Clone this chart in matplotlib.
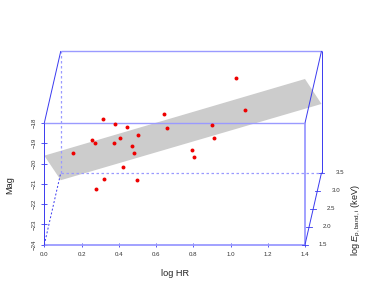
import numpy as np
import matplotlib
matplotlib.use('Agg')
import matplotlib.pyplot as plt

plt.rcParams['font.family'] = ['Liberation Sans', 'DejaVu Sans']
plt.rcParams['mathtext.fontset'] = 'custom'
plt.rcParams['mathtext.rm'] = 'Liberation Sans'
plt.rcParams['mathtext.it'] = 'Liberation Sans:italic'

# points
log_hr = [0.316, 0.380, 0.445, 0.643, 0.661, 0.505, 0.407, 0.258, 0.272, 0.374, 0.469, 0.480,
          0.152, 0.421, 1.031, 1.076, 0.899, 0.910, 0.795, 0.806, 0.319, 0.496, 0.280]
mag = [-17.80, -18.05, -18.18, -17.56, -18.23, -18.61, -18.75, -18.82, -19.00, -19.00, -19.13, -19.46,
       -19.46, -20.18, -15.80, -17.37, -18.08, -18.72, -19.35, -19.66, -20.75, -20.81, -21.27]

# fitted plane corners (log HR, log Ep, Mag)
plane_hr = [0.0, 1.4, 1.4, 0.0]
plane_ep = [1.5, 1.5, 3.5, 3.5]
plane_mag = [-19.61, -15.83, -20.61, -24.37]

hr_ticks = [0.0, 0.2, 0.4, 0.6, 0.8, 1.0, 1.2, 1.4]
mag_ticks = [-24, -23, -22, -21, -20, -19, -18]
ep_ticks = [1.5, 2.0, 2.5, 3.0, 3.5]

blue = '#3a3af0'
light = '#9a9aff'
grey = '#333333'

W, H = 374, 307
left, right, bottom, top = 44.3, 305.0, 244.7, 123.0
dx_px, dy_px = 16.5, 72.0  # oblique depth of the box

fig = plt.figure(figsize=(W / 100, H / 100), dpi=100)
ax = fig.add_axes([left / W, 1 - bottom / H, (right - left) / W, (bottom - top) / H])
ax.set_xlim(0, 1.4)
ax.set_ylim(-24, -18)
for spine in ax.spines.values():
    spine.set_visible(False)


def shear(hr, ep, m):
    # scatterplot3d style projection onto the front panel
    d = (np.asarray(ep, dtype=float) - 1.5) / 2.0
    sx = (right - left) / 1.4
    sy = (bottom - top) / 6.0
    return np.asarray(hr) + d * dx_px / sx, np.asarray(m) + d * dy_px / sy


def box_line(hr, ep, m, **kw):
    x, y = shear(hr, ep, m)
    ax.plot(x, y, clip_on=False, solid_capstyle='butt', **kw)


# grey plane
px, py = shear(plane_hr, plane_ep, plane_mag)
ax.fill(px, py, color='#cccccc', lw=0, zorder=1, clip_on=False)

# front panel
box_line([0, 1.4], [1.5, 1.5], [-18, -18], color=light, lw=1.0, zorder=2)
box_line([0, 1.4], [1.5, 1.5], [-24, -24], color=light, lw=1.3, zorder=2)
box_line([0, 0], [1.5, 1.5], [-24, -18], color=blue, lw=0.7, zorder=2)
box_line([1.4, 1.4], [1.5, 1.5], [-24, -18], color=light, lw=1.3, zorder=2)
# back panel
box_line([0, 1.4], [3.5, 3.5], [-18, -18], color=light, lw=1.0, zorder=2)
box_line([1.4, 1.4], [3.5, 3.5], [-24, -18], color=blue, lw=0.7, zorder=2)
box_line([0, 0], [3.5, 3.5], [-24, -18], color=light, lw=0.9, ls=(0, (2, 2)), zorder=2)
box_line([0, 1.4], [3.5, 3.5], [-24, -24], color=light, lw=0.9, ls=(0, (2, 2)), zorder=2)
# depth edges
box_line([0, 0], [1.5, 3.5], [-18, -18], color=blue, lw=0.7, zorder=2)
box_line([1.4, 1.4], [1.5, 3.5], [-18, -18], color=blue, lw=0.7, zorder=2)
box_line([1.4, 1.4], [1.5, 3.5], [-24, -24], color=blue, lw=0.7, zorder=2)
box_line([0, 0], [1.5, 3.5], [-24, -24], color=blue, lw=0.7, ls=(0, (2, 2)), zorder=2)

ax.scatter(log_hr, mag, s=8, color='#ee0000', lw=0, zorder=4, clip_on=False)

ax.set_xticks(hr_ticks)
ax.set_xticklabels([f'{v:.1f}' for v in hr_ticks])
ax.set_yticks(mag_ticks)
ax.set_yticklabels([f'\u2212{abs(v)}' for v in mag_ticks], rotation=90, va='center')
ax.tick_params(axis='x', direction='inout', length=3, width=0.6, color=blue,
               labelsize=4.4, labelcolor=grey, pad=4)
ax.tick_params(axis='y', direction='inout', length=5, width=0.6, color=blue,
               labelsize=4.4, labelcolor=grey, pad=3)

# depth axis ticks and labels
for ep in ep_ticks:
    tx, ty = shear(1.4, ep, -24)
    ax.plot([tx - 0.015, tx + 0.015], [ty, ty], color=blue, lw=0.6, clip_on=False, zorder=2)
    ax.annotate(f'{ep:.1f}', (tx, ty), xytext=(10, 0), textcoords='offset points',
                fontsize=4.4, color=grey, va='center', ha='left', annotation_clip=False)

fig.text(175 / W, 1 - 273 / H, 'log HR', fontsize=6.6, color='#222222', ha='center', va='center')
fig.text(10 / W, 1 - 185 / H, 'Mag', fontsize=6.6, color='#222222', rotation=90, ha='center', va='center')
fig.text(356 / W, 1 - 220 / H, r'log $\mathit{E}_{\mathrm{p,band,i}}$ (keV)', fontsize=6.6, color='#222222',
         rotation=90, ha='center', va='center')

fig.savefig('out.png', dpi=100)
